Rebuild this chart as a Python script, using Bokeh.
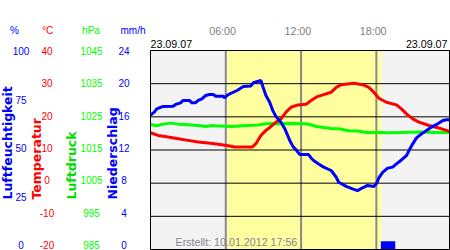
import math
from bokeh.plotting import figure
from bokeh.models import Range1d, Label
from bokeh.core.properties import value
from bokeh.embed import file_html
from bokeh.resources import INLINE

# ---------------- data ----------------
hum_hours = [0.0, 0.3, 0.5, 1.0, 1.8, 2.0, 2.4, 2.6, 3.1, 3.3, 3.6, 3.8, 4.1, 4.4, 4.7,
             5.0, 5.2, 5.8, 5.9, 6.1, 6.4, 6.9, 7.4, 8.0, 8.2, 8.8, 8.95, 9.2, 9.5, 9.75,
             10.0, 10.4, 10.7, 11.1, 11.35, 11.6, 11.9, 12.6, 12.8, 13.0, 13.4, 13.8, 14.4,
             14.8, 15.0, 15.6, 16.1, 16.5, 16.9, 17.3, 17.8, 18.0, 18.2, 18.5, 18.9, 19.3,
             19.6, 20.0, 20.4, 20.6, 20.9, 21.2, 21.6, 22.0, 22.4, 22.9, 23.3, 23.6, 23.83]
hum_vals = [67.5, 69.0, 70.7, 71.9, 72.0, 72.9, 73.7, 74.9, 74.9, 73.7, 73.8, 74.9, 75.7, 77.4,
            77.9, 77.9, 77.0, 77.0, 76.2, 77.4, 78.5, 79.9, 81.9, 82.2, 83.8, 84.9, 81.9, 77.4,
            74.0, 69.8, 66.8, 64.0, 60.7, 54.8, 51.8, 50.1, 47.7, 47.7, 46.0, 44.7, 43.0, 41.4,
            39.7, 36.3, 33.8, 31.7, 30.5, 29.6, 31.0, 32.2, 31.7, 33.0, 36.0, 38.8, 40.9, 41.4,
            43.0, 45.0, 47.2, 49.7, 53.1, 56.1, 58.1, 59.8, 61.5, 63.2, 64.8, 65.2, 65.2]

temp_hours = [0.0, 0.6, 1.4, 2.2, 3.0, 3.8, 4.6, 5.4, 6.2, 6.7, 8.1, 8.4, 8.8, 9.2, 9.6, 10.0,
              10.4, 10.8, 11.2, 11.75, 12.4, 12.8, 13.3, 13.8, 14.4, 14.8, 15.2, 16.2, 16.9,
              17.4, 17.8, 18.2, 18.8, 19.6, 20.0, 20.4, 20.9, 21.4, 22.2, 22.9, 23.6, 23.83]
temp_vals = [15.2, 14.4, 13.9, 13.4, 12.9, 12.4, 12.1, 11.7, 11.3, 10.9, 10.9, 11.9, 14.4, 15.9,
             17.1, 18.4, 19.4, 21.4, 22.9, 23.6, 23.8, 24.9, 26.1, 26.7, 27.4, 28.9, 29.7, 30.1,
             29.7, 28.9, 27.4, 25.6, 24.4, 23.6, 22.4, 20.9, 19.4, 18.4, 17.4, 16.7, 15.9, 15.6]

pres_hours = [0.0, 0.5, 1.0, 1.6, 2.2, 3.0, 4.0, 4.4, 4.9, 5.5, 6.5, 7.3, 8.5, 9.2, 11.0, 12.3,
              12.8, 13.2, 14.4, 15.2, 15.8, 16.5, 17.2, 18.3, 19.0, 20.0, 21.5, 22.5, 23.83]
pres_vals = [1022.7, 1022.3, 1022.8, 1023.1, 1022.8, 1022.6, 1022.3, 1022.1, 1022.4, 1022.2,
             1022.1, 1022.3, 1022.5, 1022.9, 1023.0, 1022.9, 1022.6, 1022.1, 1021.5, 1021.3,
             1020.8, 1020.7, 1020.3, 1020.3, 1020.2, 1020.3, 1020.4, 1020.3, 1020.3]

rain_hours = [18.93]
rain_vals = [1.0]

day_end = 23.83                   # last sample of the day (hours)
daylight = [6.13, 18.40]          # sunrise, sunset (hours)
time_ticks = [6, 12, 18]
time_labels = ["06:00", "12:00", "18:00"]
date_text = "23.09.07"
created_text = "Erstellt: 10.01.2012 17:56"

hum_ticks = [0, 25, 50, 75, 100]
temp_ticks = [-20, -10, 0, 10, 20, 30, 40]
pres_ticks = [985, 995, 1005, 1015, 1025, 1035, 1045]
rain_ticks = [0, 4, 8, 12, 16, 20, 24]

# ---------------- layout / styles ----------------
W, H = 450, 250
PL, PR, PT, PB = 150, 449, 50, 249          # plot-area edges (canvas px)
LBL_T, LBL_B = 50.5, 244.5                  # where the outer tick labels sit
BLUE, RED, GREEN, GREY = "#0000ff", "#ff0000", "#00ff00", "#808080"
FONT = "Liberation Sans"
TITLE_FONT = "DejaVu Sans"


def span_range(lo, hi, px_lo, px_hi, total):
    """Range whose lo/hi land on px_lo/px_hi of a frame that is `total` px long."""
    s = (hi - lo) / (px_hi - px_lo)
    return Range1d(lo - px_lo * s, hi + (total - px_hi) * s)


def yr(lo, hi, top=PT, bottom=PB):
    return span_range(lo, hi, H - bottom, H - top, H)


x_rng = span_range(0, day_end, PL, PR, W)
y_rng = yr(temp_ticks[0], temp_ticks[-1])


def hx(px):   # canvas x px -> hours
    return x_rng.start + px * (x_rng.end - x_rng.start) / W


def vy(py):   # canvas y px -> temperature units
    return y_rng.start + (H - py) * (y_rng.end - y_rng.start) / H


p = figure(width=W, height=H, x_range=x_rng, y_range=y_rng, title=None,
           x_axis_location=None, y_axis_location=None, toolbar_location=None,
           output_backend="svg", min_border=0, min_border_left=0, min_border_right=0,
           min_border_top=0, min_border_bottom=0)
p.outline_line_color = None
p.background_fill_color = "white"
p.border_fill_color = "white"
p.grid.visible = False

p.extra_y_ranges = {
    "hum": yr(hum_ticks[0], hum_ticks[-1]),
    "pres": yr(pres_ticks[0], pres_ticks[-1]),
    "rain": yr(rain_ticks[0], rain_ticks[-1]),
    "hum_lbl": yr(hum_ticks[0], hum_ticks[-1], LBL_T, LBL_B),
    "temp_lbl": yr(temp_ticks[0], temp_ticks[-1], LBL_T, LBL_B),
    "pres_lbl": yr(pres_ticks[0], pres_ticks[-1], LBL_T, LBL_B),
    "rain_lbl": yr(rain_ticks[0], rain_ticks[-1], LBL_T, LBL_B),
}

t_lo, t_hi = temp_ticks[0], temp_ticks[-1]

# plot area, daylight band, grid
p.quad(left=[0], right=[day_end], bottom=[t_lo], top=[t_hi],
       fill_color="#f3f3f3", line_color=None)
p.quad(left=[daylight[0]], right=[daylight[1]], bottom=[t_lo], top=[t_hi],
       fill_color="#ffffa0", line_color=None)
p.segment(x0=time_ticks, x1=time_ticks, y0=[t_lo] * len(time_ticks),
          y1=[t_hi] * len(time_ticks), line_color="#8a8a8a", line_width=2)
inner = temp_ticks[1:-1]
p.segment(x0=[0] * len(inner), x1=[day_end] * len(inner), y0=inner, y1=inner,
          line_color="black", line_width=1)

# data
p.vbar(x=rain_hours, top=rain_vals, bottom=0, width=1.15, y_range_name="rain",
       fill_color=BLUE, line_color=None)
p.line(pres_hours, pres_vals, y_range_name="pres", line_color=GREEN, line_width=3)
p.line(temp_hours, temp_vals, line_color=RED, line_width=3)
p.line(hum_hours, hum_vals, y_range_name="hum", line_color=BLUE, line_width=3)

# plot-area border
p.quad(left=[0], right=[day_end], bottom=[t_lo], top=[t_hi],
       fill_color=None, line_color="black", line_width=1)

# tick-label columns (centre x in canvas px)
def tick_column(ticks, rng, color, cx):
    p.text(x=[hx(cx)] * len(ticks), y=ticks, text=[str(t) for t in ticks],
           y_range_name=rng, text_color=color, text_font=value(FONT),
           text_font_size=value("10px"), text_align="center", text_baseline="middle")

tick_column(hum_ticks, "hum_lbl", BLUE, 20.5)
tick_column(temp_ticks, "temp_lbl", RED, 46.5)
tick_column(pres_ticks, "pres_lbl", GREEN, 91)
tick_column(rain_ticks, "rain_lbl", BLUE, 123.5)

# time-of-day labels above the plot
p.text(x=time_ticks, y=[vy(30)] * len(time_ticks), text=time_labels, x_offset=-3.2,
       text_color=GREY, text_font=value(FONT), text_font_size=value("10.7px"),
       text_align="center", text_baseline="middle")


def label(text, cx, cy, color, size, align="center", angle=0.0, font=FONT,
          style="normal", baseline="middle"):
    p.add_layout(Label(x=cx, y=H - cy, x_units="screen", y_units="screen",
                       text=text, text_color=color, text_font=font, text_font_size=size,
                       text_font_style=style, text_align=align, text_baseline=baseline,
                       angle=angle))

# unit headers
label("%", 14, 30, BLUE, "10px")
label("°C", 47, 30, RED, "10px")
label("hPa", 90.5, 30, GREEN, "10px")
label("mm/h", 132.5, 30, BLUE, "10px")

# rotated axis titles (centre x, start y at the bottom)
for txt, cx, col in [("Luftfeuchtigkeit", 6.5, BLUE), ("Temperatur", 36, RED),
                     ("Luftdruck", 71, "#00dd00"), ("Niederschlag", 111.5, BLUE)]:
    label(txt, cx, 199, col, "12.5px", align="left", angle=math.pi / 2,
          font=TITLE_FONT, style="bold", baseline="middle")

# dates and creation stamp
label(date_text, 150, 43, "black", "10.7px", align="left")
label(date_text, 447, 43, "black", "10.7px", align="right")
label(created_text, 175, 241, "#858590", "10.7px", align="left")

open("out.html", "w").write(file_html(p, INLINE))
